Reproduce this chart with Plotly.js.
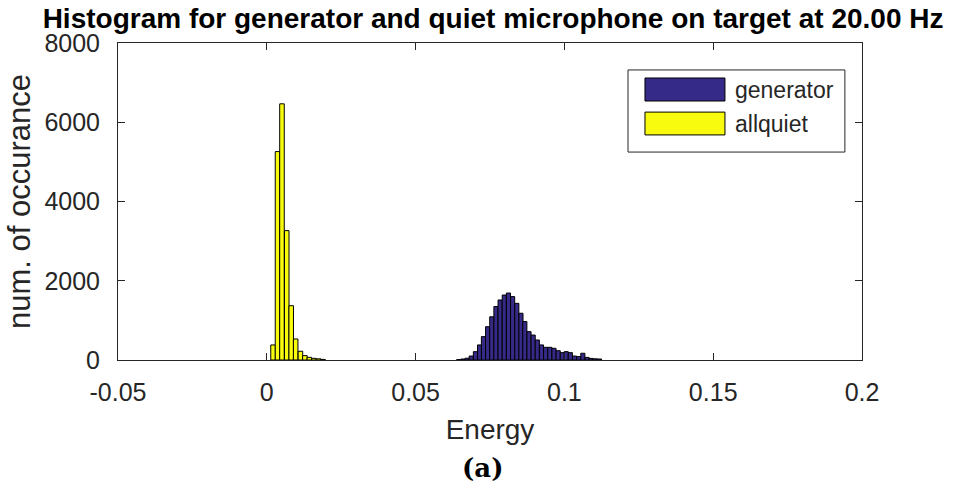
<!DOCTYPE html>
<html>
<head>
<meta charset="utf-8">
<script src="https://cdn.plot.ly/plotly-3.0.1.min.js"></script>
<style>html,body{margin:0;padding:0;background:#fff;}#chart{width:963px;height:487px;}</style>
</head>
<body>
<div id="chart"></div>
<script>
// Generator histogram: bin centers and counts
const genCenters = [0.0645, 0.0659, 0.0673, 0.0687, 0.0701, 0.0715, 0.0728, 0.0742, 0.0756, 0.0770,
  0.0784, 0.0798, 0.0812, 0.0826, 0.0840, 0.0854, 0.0867, 0.0881, 0.0895, 0.0909,
  0.0923, 0.0937, 0.0951, 0.0965, 0.0979, 0.0993, 0.1006, 0.1020, 0.1034, 0.1048,
  0.1062, 0.1076, 0.1090, 0.1104, 0.1118];
const genCounts = [10, 25, 45, 100, 210, 380, 590, 840, 1090, 1350,
  1515, 1640, 1690, 1600, 1430, 1180, 970, 715, 630, 505,
  380, 320, 320, 295, 235, 185, 210, 185, 100, 85,
  170, 65, 40, 30, 25];
// Allquiet histogram: bin centers and counts
const quietCenters = [0.0021, 0.0036, 0.0051, 0.0067, 0.0082, 0.0097, 0.0113, 0.0128, 0.0143, 0.0158, 0.0174, 0.0189];
const quietCounts = [380, 5260, 6465, 3265, 1370, 530, 220, 110, 67, 42, 30, 15];

const seriesNames = ["generator", "allquiet"];
const xTickVals = [-0.05, 0, 0.05, 0.1, 0.15, 0.2];
const xTickText = ["-0.05", "0", "0.05", "0.1", "0.15", "0.2"];
const yTickVals = [0, 2000, 4000, 6000, 8000];
const yTickText = ["0", "2000", "4000", "6000", "8000"];

const genColor = "rgb(53,42,135)";
const quietColor = "rgb(249,251,14)";
const textColor = "#262626";
const font = "Liberation Sans, Arial, Helvetica, sans-serif";

const traces = [
  {type: "bar", name: seriesNames[0], x: genCenters, y: genCounts, width: 0.00139,
   marker: {color: genColor, line: {color: "#000", width: 1}}, showlegend: false},
  {type: "bar", name: seriesNames[1], x: quietCenters, y: quietCounts, width: 0.00153,
   marker: {color: quietColor, line: {color: "#000", width: 1}}, showlegend: false}
];

const layout = {
  width: 963, height: 487,
  margin: {l: 118, r: 101, t: 43, b: 127, pad: 0},
  paper_bgcolor: "#fff", plot_bgcolor: "#fff",
  barmode: "overlay",
  title: {text: "Histogram for generator and quiet microphone on target at 20.00 Hz",
    font: {family: font, size: 28, color: "#000", weight: "bold"},
    x: 0.512, xanchor: "center", y: 0.962, yanchor: "middle"},
  xaxis: {range: [-0.05, 0.2], tickvals: xTickVals, ticktext: xTickText,
    ticks: "inside", ticklen: 7, tickcolor: textColor, showline: true, mirror: "ticks",
    linecolor: textColor, linewidth: 1, showgrid: false, zeroline: false,
    tickfont: {family: font, size: 25, color: textColor}, ticklabelstandoff: 10,
    title: {text: "Energy", font: {family: font, size: 28, color: textColor}, standoff: 14}},
  yaxis: {range: [0, 8000], tickvals: yTickVals, ticktext: yTickText,
    ticks: "inside", ticklen: 7, tickcolor: textColor, showline: true, mirror: "ticks",
    linecolor: textColor, linewidth: 1, showgrid: false, zeroline: false,
    tickfont: {family: font, size: 25, color: textColor}, ticklabelstandoff: 12,
    title: {text: "num. of occurance", font: {family: font, size: 31, color: textColor}, standoff: 4}},
  shapes: [
    {type: "rect", xref: "paper", yref: "paper", x0: 0.6855, x1: 0.977, y0: 0.656, y1: 0.915,
     line: {color: textColor, width: 1}, fillcolor: "#fff"},
    {type: "rect", xref: "paper", yref: "paper", x0: 0.7083, x1: 0.8158, y0: 0.817, y1: 0.8896,
     line: {color: "#000", width: 1}, fillcolor: genColor},
    {type: "rect", xref: "paper", yref: "paper", x0: 0.7083, x1: 0.8158, y0: 0.710, y1: 0.782,
     line: {color: "#000", width: 1}, fillcolor: quietColor}
  ],
  annotations: [
    {xref: "paper", yref: "paper", x: 0.826, y: 0.853, xanchor: "left", yanchor: "middle",
     text: seriesNames[0], showarrow: false, font: {family: font, size: 23, color: textColor}},
    {xref: "paper", yref: "paper", x: 0.826, y: 0.746, xanchor: "left", yanchor: "middle",
     text: seriesNames[1], showarrow: false, font: {family: font, size: 23, color: textColor}},
    {xref: "paper", yref: "paper", x: 0.49, y: -0.34, xanchor: "center", yanchor: "middle",
     text: "<b>(a)</b>", showarrow: false, font: {family: "DejaVu Serif, Liberation Serif, serif", size: 26, color: "#000"}}
  ]
};

Plotly.newPlot("chart", traces, layout, {staticPlot: true, displayModeBar: false});
</script>
</body>
</html>
